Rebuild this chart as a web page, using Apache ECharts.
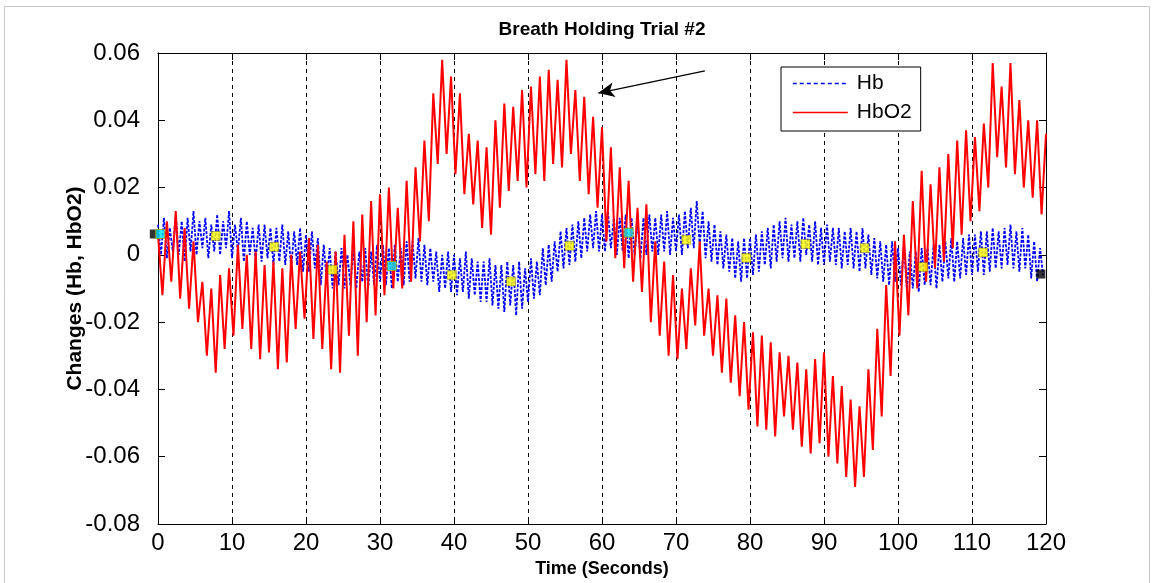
<!DOCTYPE html>
<html><head><meta charset="utf-8">
<script src="https://cdn.jsdelivr.net/npm/echarts/dist/echarts.min.js"></script>
<style>html,body{margin:0;padding:0;background:#fff}#c{width:1154px;height:583px}</style>
</head><body><div id="c"></div>
<script>
// ---- data ----
const titleText = 'Breath Holding Trial #2';
const xName = 'Time (Seconds)';
const yName = 'Changes (Hb, HbO2)';
const seriesNames = ['Hb', 'HbO2'];
const xMin = 0, xMax = 120, xInterval = 10;
const yMin = -0.08, yMax = 0.06, yInterval = 0.02;

// HbO2 sampled every 0.6 s
const hbo2Step = 0.6;
const hbo2Values = [
0.006,-0.012,0.010,-0.008,0.013,-0.013,0.008,-0.016,0.004,-0.020,
-0.008,-0.030,-0.010,-0.035,-0.006,-0.028,-0.004,-0.024,0.003,-0.022,
0.000,-0.028,0.001,-0.031,-0.003,-0.029,-0.002,-0.034,-0.004,-0.032,
0.000,-0.022,0.001,-0.019,0.005,-0.025,0.003,-0.028,-0.002,-0.034,
0.001,-0.035,0.006,-0.024,0.010,-0.030,0.012,-0.020,0.016,-0.018,
0.018,-0.012,0.020,-0.010,0.014,-0.010,0.022,-0.008,0.026,0.004,
0.034,0.010,0.048,0.027,0.058,0.030,0.053,0.024,0.048,0.018,
0.036,0.015,0.034,0.008,0.032,0.006,0.040,0.014,0.045,0.019,
0.044,0.022,0.049,0.020,0.050,0.024,0.053,0.022,0.055,0.027,
0.052,0.026,0.058,0.030,0.049,0.022,0.047,0.018,0.041,0.014,
0.038,0.004,0.032,-0.001,0.026,-0.004,0.022,-0.008,0.014,-0.011,
0.015,-0.020,0.004,-0.024,-0.002,-0.030,-0.006,-0.031,-0.010,-0.028,
-0.004,-0.021,0.004,-0.024,-0.010,-0.030,-0.012,-0.035,-0.013,-0.038,
-0.018,-0.042,-0.020,-0.046,-0.023,-0.051,-0.024,-0.052,-0.026,-0.054,
-0.029,-0.048,-0.030,-0.052,-0.032,-0.057,-0.034,-0.059,-0.031,-0.056,
-0.029,-0.060,-0.036,-0.062,-0.039,-0.066,-0.043,-0.069,-0.045,-0.066,
-0.034,-0.058,-0.022,-0.048,-0.009,-0.036,0.004,-0.024,0.006,-0.018,
0.016,-0.010,0.025,-0.008,0.021,-0.004,0.026,-0.002,0.030,0.002,
0.034,0.006,0.037,0.010,0.035,0.013,0.039,0.020,0.057,0.029,
0.050,0.026,0.057,0.024,0.046,0.020,0.040,0.017,0.040,0.012,
0.036
];

// Hb sampled every 0.4 s
const hbStep = 0.4;
const hbValues = [
0.009,0.000,0.011,-0.001,0.008, 0.001,0.012,0.000,0.010,-0.002,
0.011,0.001,0.013,0.000,0.010, 0.002,0.011,-0.001,0.009,0.001,
0.012,0.000,0.010,0.002,0.013, -0.001,0.009,0.001,0.011,-0.002,
0.010,0.000,0.008,-0.002,0.009, -0.002,0.009,-0.001,0.008,-0.003,
0.008,-0.002,0.009,-0.003,0.007, -0.004,0.007,-0.003,0.008,-0.005,
0.006,-0.005,0.007,-0.004,0.005, -0.009,0.003,-0.008,0.002,-0.010,
0.001,-0.009,0.002,-0.010,0.000, -0.009,0.002,-0.010,0.001,-0.008,
0.002,-0.010,0.001,-0.009,0.003, -0.008,0.003,-0.009,0.002,-0.010,
0.003,-0.008,0.002,-0.009,0.004, -0.008,0.004,-0.007,0.005,-0.008,
0.003,-0.009,0.002,-0.008,0.001, -0.011,0.000,-0.010,0.001,-0.011,
0.000,-0.012,-0.001,-0.011,0.001, -0.013,-0.001,-0.012,-0.002,-0.014,
-0.002,-0.014,-0.001,-0.015,-0.003, -0.016,-0.003,-0.017,-0.002,-0.015,
-0.003,-0.018,-0.002,-0.016,-0.004, -0.014,-0.001,-0.013,-0.002,-0.012,
0.002,-0.009,0.003,-0.008,0.004, -0.005,0.007,-0.004,0.008,-0.003,
0.009,-0.002,0.010,-0.001,0.011, 0.001,0.012,0.002,0.013,0.001,
0.012,0.001,0.013,0.002,0.011, 0.000,0.011,0.001,0.012,-0.001,
0.011,0.000,0.010,-0.001,0.011, 0.000,0.012,0.001,0.011,0.000,
0.012,0.001,0.013,0.000,0.011, 0.001,0.012,0.000,0.013,0.002,
0.014,0.002,0.016,0.003,0.013, -0.001,0.010,-0.002,0.009,-0.003,
0.007,-0.004,0.006,-0.005,0.005, -0.007,0.004,-0.008,0.005,-0.007,
0.005,-0.006,0.006,-0.005,0.007, -0.003,0.008,-0.004,0.009,-0.002,
0.010,-0.001,0.011,-0.002,0.009, -0.001,0.010,-0.002,0.011,0.000,
0.009,-0.002,0.010,-0.003,0.008, -0.003,0.009,-0.002,0.008,-0.003,
0.008,-0.004,0.007,-0.003,0.008, -0.004,0.007,-0.005,0.008,-0.004,
0.006,-0.006,0.005,-0.007,0.004, -0.008,0.003,-0.009,0.004,-0.008,
0.002,-0.009,0.003,-0.010,0.001, -0.010,0.001,-0.011,0.002,-0.009,
0.002,-0.009,0.003,-0.010,0.003, -0.008,0.004,-0.007,0.005,-0.008,
0.004,-0.007,0.005,-0.006,0.006, -0.006,0.006,-0.005,0.007,-0.006,
0.007,-0.005,0.008,-0.004,0.007, -0.004,0.008,-0.003,0.009,-0.004,
0.007,-0.005,0.008,-0.004,0.006, -0.007,0.004,-0.008,0.002,-0.006
];

// square markers on the Hb trace
const yellowMarkTimes  = [7.8, 15.7, 23.6, 39.7, 47.7, 55.6, 71.4, 79.5, 87.5, 95.5, 103.4, 111.5];
const yellowMarkValues = [0.0056, 0.0024, -0.0044, -0.0060, -0.0079, 0.0027, 0.0045, -0.0009, 0.0032, 0.0020, -0.0036, 0.0007];
const cyanMarkTimes  = [0.3, 31.6, 63.6];
const cyanMarkValues = [0.0062, -0.0033, 0.0066];
const blackMarkTimes  = [-0.5, 119.3];
const blackMarkValues = [0.0062, -0.0057];

// arrow annotation (start -> head)
const arrowFrom = [73.9, 0.0547];
const arrowTo   = [59.5, 0.0481];

// ---- chart ----
const pairs = (vals, step) => vals.map((v, i) => [+(i * step).toFixed(2), v]);
const zip = (a, b) => a.map((t, i) => [t, b[i]]);

const tickFont = "'Liberation Sans',Arial,sans-serif";
const boldFont = "'Liberation Sans',Arial,sans-serif";

const chart = echarts.init(document.getElementById('c'), null, {renderer: 'canvas'});
const axisLine = {show: true, onZero: false, lineStyle: {color: '#000', width: 1}};
const tickIn = {show: true, inside: true, length: 7, lineStyle: {color: '#000', width: 1}};

chart.setOption({
  animation: false,
  backgroundColor: '#fff',
  graphic: [
    {type: 'rect', shape: {x: 4.5, y: 6.5, width: 1145, height: 580}, style: {fill: 'none', stroke: '#c8c8c8', lineWidth: 1}, silent: true, z: -10},
    {type: 'text', x: 602, y: 30, style: {text: titleText, textAlign: 'center', textVerticalAlign: 'middle', font: "bold 19px " + boldFont, fill: '#000'}}
  ],
  grid: {left: 158, right: 108, top: 53, bottom: 59, containLabel: false},
  legend: {
    data: [
      {name: seriesNames[0], lineStyle: {color: '#0000ff', width: 1.6, type: [4, 3]}},
      {name: seriesNames[1], lineStyle: {color: '#ff0000', width: 1.4, type: 'solid'}}
    ],
    orient: 'vertical',
    left: 781, top: 67,
    backgroundColor: '#fff',
    borderColor: '#000', borderWidth: 1, borderRadius: 0,
    padding: [6, 9, 8, 11],
    itemWidth: 55, itemHeight: 14, itemGap: 8,
    itemStyle: {color: 'rgba(0,0,0,0)', borderColor: 'rgba(0,0,0,0)', borderWidth: 0},
    textStyle: {fontSize: 21, fontFamily: "'Liberation Sans',Arial,sans-serif", color: '#000', padding: [0, 0, 0, 4]},
    z: 10
  },
  xAxis: [
    {type: 'value', min: xMin, max: xMax, interval: xInterval, position: 'bottom',
     name: xName, nameLocation: 'middle', nameGap: 33,
     nameTextStyle: {fontSize: 18, fontWeight: 'bold', fontFamily: boldFont, color: '#000'},
     axisLine: axisLine, axisTick: tickIn,
     axisLabel: {color: '#000', fontSize: 24, fontFamily: tickFont, margin: 7},
     splitLine: {show: true, lineStyle: {color: '#000', type: [4, 4], width: 1}}},
    {type: 'value', min: xMin, max: xMax, interval: xInterval, position: 'top',
     axisLine: axisLine, axisTick: tickIn, axisLabel: {show: false}, splitLine: {show: false}}
  ],
  yAxis: [
    {type: 'value', min: yMin, max: yMax, interval: yInterval, position: 'left',
     name: yName, nameLocation: 'middle', nameGap: 72, nameRotate: 90, nameMoveOverlap: false,
     nameTextStyle: {fontSize: 21, fontWeight: 'bold', fontFamily: boldFont, color: '#000'},
     axisLine: axisLine, axisTick: tickIn,
     axisLabel: {color: '#000', fontSize: 24, fontFamily: tickFont, margin: 18,
                 formatter: v => (Math.abs(v) < 1e-9 ? '0' : v.toFixed(2))},
     splitLine: {show: false}},
    {type: 'value', min: yMin, max: yMax, interval: yInterval, position: 'right',
     axisLine: axisLine, axisTick: tickIn, axisLabel: {show: false}, splitLine: {show: false}}
  ],
  series: [
    {name: seriesNames[0], type: 'line', data: pairs(hbValues, hbStep), showSymbol: false, symbol: 'none',
     color: '#0000ff', lineStyle: {color: '#0000ff', width: 1.8, type: [3, 1.5]}, z: 2, silent: true},
    {name: seriesNames[1], type: 'line', data: pairs(hbo2Values, hbo2Step), showSymbol: false, symbol: 'none',
     color: '#ff0000', lineStyle: {color: '#ff0000', width: 2}, z: 3, silent: true,
     markLine: {silent: true, symbol: ['none', 'arrow'], symbolSize: [11, 16], label: {show: false},
       lineStyle: {color: '#000', width: 1.3, type: 'solid'},
       data: [[{coord: arrowFrom}, {coord: arrowTo}]]}},
    {type: 'scatter', data: zip(blackMarkTimes, blackMarkValues), symbol: 'rect', symbolSize: 9,
     itemStyle: {color: '#000'}, z: 5, clip: false, silent: true},
    {type: 'scatter', data: zip(yellowMarkTimes, yellowMarkValues), symbol: 'rect', symbolSize: 9,
     itemStyle: {color: '#ffff00', borderColor: '#555500', borderWidth: 0.5}, z: 6, silent: true},
    {type: 'scatter', data: zip(cyanMarkTimes, cyanMarkValues), symbol: 'rect', symbolSize: 9,
     itemStyle: {color: '#00e5ff', borderColor: '#aaaa00', borderWidth: 1}, z: 6, clip: false, silent: true}
  ]
});
</script>
</body></html>
